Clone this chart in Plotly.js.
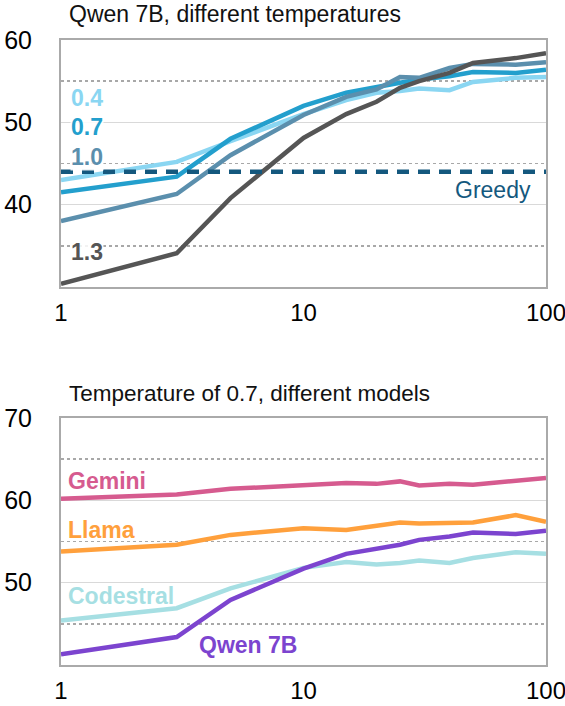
<!DOCTYPE html>
<html>
<head>
<meta charset="utf-8">
<script src="https://cdn.plot.ly/plotly-3.0.1.min.js"></script>
<style>
  html, body { margin: 0; padding: 0; background: #fff; }
  #chart { width: 565px; height: 706px; }
</style>
</head>
<body>
<div id="chart"></div>
<script>
// Samples (k)
const samples = [1, 3, 5, 10, 15, 20, 25, 30, 40, 50, 75, 100];

// Top panel: Qwen 7B, different temperatures
const temp04 = [43.0, 45.2, 47.7, 51.0, 52.7, 53.6, 53.8, 54.1, 53.9, 54.9, 55.4, 55.5];
const temp07 = [41.5, 43.4, 48.0, 52.0, 53.6, 54.2, 54.8, 55.2, 55.6, 56.1, 56.0, 56.4];
const temp10 = [38.0, 41.3, 46.0, 50.9, 53.1, 54.0, 55.5, 55.4, 56.6, 57.1, 57.0, 57.3];
const temp13 = [30.4, 34.1, 40.8, 48.1, 51.0, 52.5, 54.2, 55.0, 56.0, 57.2, 57.8, 58.4];
const greedyValue = 44.0;
const greedyX = [1, 100];

// Bottom panel: Temperature of 0.7, different models
const gemini    = [60.2, 60.7, 61.4, 61.8, 62.1, 62.0, 62.3, 61.8, 62.0, 61.9, 62.4, 62.7];
const llama     = [53.8, 54.6, 55.8, 56.6, 56.4, 56.9, 57.3, 57.2, 57.2, 57.3, 58.2, 57.4];
const codestral = [45.4, 46.9, 49.3, 51.8, 52.5, 52.2, 52.4, 52.7, 52.4, 53.0, 53.7, 53.5];
const qwen7b    = [41.3, 43.4, 47.9, 51.7, 53.5, 54.1, 54.6, 55.2, 55.6, 56.1, 55.9, 56.3];

// Tick labels
const xTickVals = [1, 10, 100];
const xTickText = ['1', '10', '100'];
const yTopTicks = [40, 50, 60];
const yBotTicks = [50, 60, 70];

const FONT = 'Liberation Sans, Arial, Helvetica, sans-serif';
const LW = 4.5;

function line(x, y, color, xa, ya, extra) {
  return Object.assign({
    type: 'scatter', mode: 'lines', x: x, y: y,
    xaxis: xa, yaxis: ya, hoverinfo: 'skip', showlegend: false,
    line: { color: color, width: LW }
  }, extra || {});
}

const traces = [
  line(samples, temp04, '#8ad6f2', 'x', 'y'),
  line(samples, temp07, '#239fcd', 'x', 'y'),
  line(samples, temp10, '#5b8fad', 'x', 'y'),
  line(samples, temp13, '#555555', 'x', 'y'),
  line(greedyX, greedyX.map(() => greedyValue), '#14587e', 'x', 'y',
       { line: { color: '#14587e', width: 4.5, dash: '12px,9px' } }),
  line(samples, codestral, '#a6dfe3', 'x2', 'y2'),
  line(samples, llama, '#ffa03c', 'x2', 'y2'),
  line(samples, gemini, '#d65b8f', 'x2', 'y2'),
  line(samples, qwen7b, '#7c44cf', 'x2', 'y2')
];

function xaxis(anchor) {
  return {
    type: 'log', range: [0, 2], anchor: anchor,
    tickvals: xTickVals, ticktext: xTickText,
    ticks: 'outside', ticklen: 3, tickcolor: 'rgba(0,0,0,0)',
    ticklabeloverflow: 'allow',
    showgrid: false, zeroline: false,
    showline: true, mirror: true, linecolor: '#aaaaaa', linewidth: 2,
    tickfont: { family: FONT, size: 24, color: '#000' }
  };
}
function yaxis(anchor, domain, range, ticks) {
  return {
    anchor: anchor, domain: domain, range: range,
    tickvals: ticks,
    ticks: 'outside', ticklen: 22, tickcolor: 'rgba(0,0,0,0)',
    ticklabeloverflow: 'allow',
    showgrid: true, gridcolor: '#d9d9d9', gridwidth: 1.5,
    zeroline: false,
    showline: true, mirror: true, linecolor: '#aaaaaa', linewidth: 2,
    tickfont: { family: FONT, size: 25, color: '#000' },
    minor: { dtick: 5, tick0: 0, showgrid: true, griddash: 'dot',
             gridcolor: '#a8a8a8', gridwidth: 1.5, ticks: '' }
  };
}

function label(text, xa, ya, x, y, color, opts) {
  return Object.assign({
    text: text, xref: xa + ' domain', yref: ya + ' domain',
    x: x, y: y, xanchor: 'left', yanchor: 'middle', showarrow: false,
    font: { family: FONT, size: 23, color: color },
    bgcolor: 'rgba(255,255,255,0.85)', borderpad: 0
  }, opts || {});
}

const annotations = [
  { text: 'Qwen 7B, different temperatures', xref: 'paper', yref: 'paper',
    x: 0.012, y: 1.0416, xanchor: 'left', yanchor: 'middle', showarrow: false,
    font: { family: FONT, size: 23, color: '#111' } },
  { text: 'Temperature of 0.7, different models', xref: 'paper', yref: 'paper',
    x: 0.012, y: 0.435, xanchor: 'left', yanchor: 'middle', showarrow: false,
    font: { family: FONT, size: 22.5, color: '#111' } },
  label('<b>0.4</b>', 'x', 'y', 0.018, 0.765, '#8ad6f2'),
  label('<b>0.7</b>', 'x', 'y', 0.018, 0.648, '#239fcd'),
  label('<b>1.0</b>', 'x', 'y', 0.018, 0.526, '#5b8fad'),
  label('<b>1.3</b>', 'x', 'y', 0.018, 0.142, '#555555'),
  label('Greedy', 'x', 'y', 0.972, 0.393, '#14587e', { xanchor: 'right', bgcolor: 'rgba(0,0,0,0)' }),
  label('<b>Gemini</b>', 'x2', 'y2', 0.012, 0.745, '#d65b8f', { bgcolor: 'rgba(0,0,0,0)' }),
  label('<b>Llama</b>', 'x2', 'y2', 0.012, 0.547, '#ffa03c', { bgcolor: 'rgba(0,0,0,0)' }),
  label('<b>Codestral</b>', 'x2', 'y2', 0.013, 0.279, '#a6dfe3', { bgcolor: 'rgba(0,0,0,0)' }),
  label('<b>Qwen 7B</b>', 'x2', 'y2', 0.282, 0.081, '#7c44cf', { bgcolor: 'rgba(0,0,0,0)' })
];

const layout = {
  width: 565, height: 706,
  margin: { l: 61, r: 19, t: 40, b: 41 },
  paper_bgcolor: '#ffffff', plot_bgcolor: '#ffffff',
  showlegend: false,
  xaxis: Object.assign(xaxis('y'), { domain: [0, 1] }),
  xaxis2: Object.assign(xaxis('y2'), { domain: [0, 1] }),
  yaxis: yaxis('x', [0.6048, 1], [30, 60], yTopTicks),
  yaxis2: yaxis('x2', [0, 0.3952], [40, 70], yBotTicks),
  annotations: annotations
};

Plotly.newPlot('chart', traces, layout, { staticPlot: true, displayModeBar: false });
</script>
</body>
</html>
